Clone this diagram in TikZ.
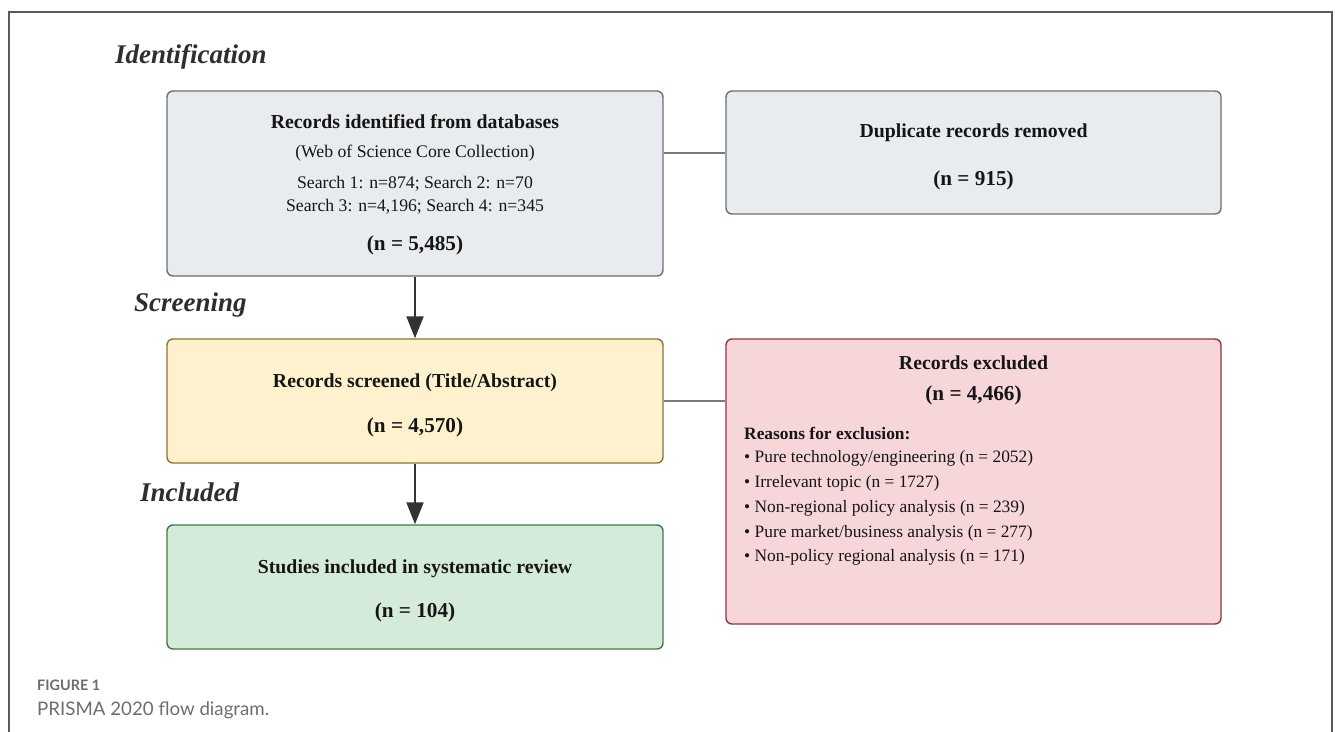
\documentclass[tikz,border=0pt]{standalone}
\usepackage{fontspec}
\setmainfont{Liberation Serif}
\newfontfamily\capfont{Lato}
\usetikzlibrary{arrows.meta}
\definecolor{frame}{HTML}{5A5A5A}
\definecolor{grayfill}{HTML}{E8ECEF}
\definecolor{graydraw}{HTML}{6C7075}
\definecolor{yelfill}{HTML}{FEF2CE}
\definecolor{yeldraw}{HTML}{8E7430}
\definecolor{redfill}{HTML}{F7D6DA}
\definecolor{reddraw}{HTML}{8E3546}
\definecolor{grnfill}{HTML}{D4EBD9}
\definecolor{grndraw}{HTML}{3F7A4C}
\definecolor{txt}{HTML}{151515}
\definecolor{phase}{HTML}{2E2E2E}
\definecolor{capgray}{HTML}{6A6E73}
\definecolor{arrowc}{HTML}{333333}
\definecolor{linkc}{HTML}{7A7A7A}
\tikzset{
  boxbase/.style={draw, line width=1.4pt, rounded corners=6pt, inner sep=0pt},
  graybox/.style={boxbase, fill=grayfill, draw=graydraw},
  yelbox/.style={boxbase, fill=yelfill, draw=yeldraw},
  redbox/.style={boxbase, fill=redfill, draw=reddraw},
  grnbox/.style={boxbase, fill=grnfill, draw=grndraw},
  ttl/.style={font=\fontsize{19.8}{22}\selectfont\bfseries, text=txt, inner sep=0pt},
  num/.style={font=\fontsize{21.2}{24}\selectfont\bfseries, text=txt, inner sep=0pt},
  reg/.style={font=\fontsize{17.7}{20}\selectfont, text=txt, inner sep=0pt},
  item/.style={font=\fontsize{17.4}{20}\selectfont, text=txt, inner sep=0pt, anchor=west},
  phaselbl/.style={font=\fontsize{27}{30}\selectfont\bfseries\itshape, text=phase, inner sep=0pt, anchor=west},
  flowarrow/.style={draw=arrowc, line width=2pt, -{Triangle[width=17pt,length=22pt]}},
  link/.style={draw=linkc, line width=1.5pt},
}
\begin{document}
\begin{tikzpicture}[x=1pt,y=-1pt]
\useasboundingbox (0,0) rectangle (1335,731);
\fill[white] (0,0) rectangle (1335,731);
% outer frame (open at the bottom)
\draw[frame, line width=1.5pt] (9,735) -- (9,12) -- (1332,12) -- (1332,735);

% phase labels
\node[phaselbl] (lid) at (115,57) {Identification};
\node[phaselbl] (lsc) at (134,305) {Screening};
\node[phaselbl] (lin) at (140,492) {Included};

% boxes
\node[graybox, minimum width=496pt, minimum height=185pt] (A) at (415,183.5) {};
\node[graybox, minimum width=495pt, minimum height=123pt] (B) at (973.5,152.5) {};
\node[yelbox, minimum width=496pt, minimum height=124pt] (C) at (415,401) {};
\node[redbox, minimum width=495pt, minimum height=285pt] (D) at (973.5,481.5) {};
\node[grnbox, minimum width=496pt, minimum height=124pt] (E) at (415,587) {};

% connectors
\draw[flowarrow] (A.south) -- (C.north);
\draw[flowarrow] (C.south) -- (E.north);
\draw[link] (A.east |- 0,153) coordinate (a1) -- (B.west |- a1);
\draw[link] (C.east) -- (D.west |- C.east);

% box A text
\node[ttl] (A1) at (415,122) {Records identified from databases};
\node[reg] (A2) at (415,153) {(Web of Science Core Collection)};
\node[reg] (A3) at (415,184) {Search 1: n=874; Search 2: n=70};
\node[reg] (A4) at (415,207) {Search 3: n=4,196; Search 4: n=345};
\node[num] (A5) at (415,245) {(n = 5,485)};

% box B text
\node[ttl] (B1) at (973.5,133) {Duplicate records removed};
\node[num] (B2) at (973.5,180) {(n = 915)};

% box C text
\node[ttl] (C1) at (415,383) {Records screened (Title/Abstract)};
\node[num] (C2) at (415,427) {(n = 4,570)};

% box D text
\node[ttl] (D1) at (973.5,363) {Records excluded};
\node[num] (D2) at (973.5,395) {(n = 4,466)};
\node[item, font=\fontsize{17.4}{20}\selectfont\bfseries] (D3) at (744,433) {Reasons for exclusion:};
\node[item] (D4) at (744,458) {• Pure technology/engineering (n = 2052)};
\node[item] (D5) at (744,483) {• Irrelevant topic (n = 1727)};
\node[item] (D6) at (744,508) {• Non-regional policy analysis (n = 239)};
\node[item] (D7) at (744,533) {• Pure market/business analysis (n = 277)};
\node[item] (D8) at (744,557) {• Non-policy regional analysis (n = 171)};

% box E text
\node[ttl] (E1) at (415,569) {Studies included in systematic review};
\node[num] (E2) at (415,612) {(n = 104)};

% caption
\node[anchor=west, inner sep=0pt, text=capgray, font=\capfont\fontsize{14.4}{16}\selectfont\bfseries] (fig) at (37,685) {FIGURE 1};
\node[anchor=west, inner sep=0pt, text=capgray, font=\capfont\fontsize{18.7}{21}\selectfont] (cap) at (37,710) {PRISMA 2020 flow diagram.};
\end{tikzpicture}
\end{document}
